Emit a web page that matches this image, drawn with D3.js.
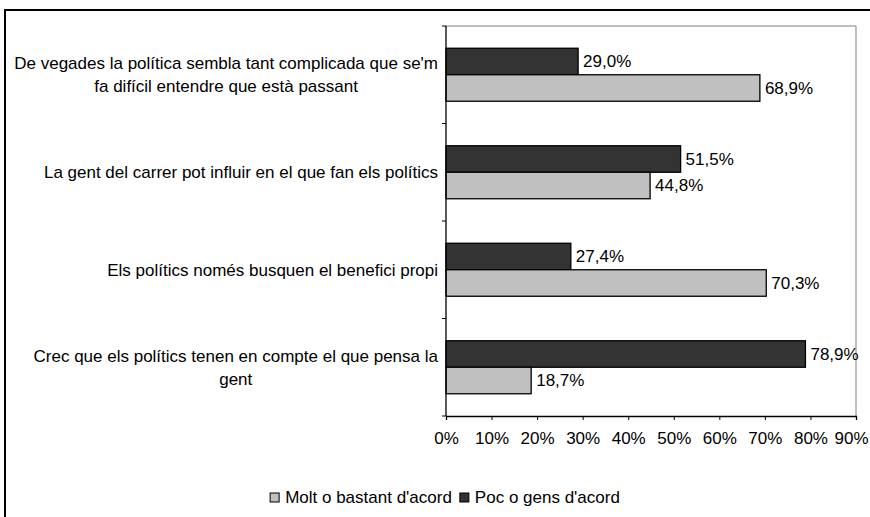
<!DOCTYPE html>
<html><head><meta charset="utf-8">
<script src="https://cdn.jsdelivr.net/npm/d3@7"></script>
<style>
html,body{margin:0;padding:0;background:#fff;}
svg{display:block;font-family:"Liberation Sans",Arial,sans-serif;}
</style></head>
<body>
<svg id="chart" width="870" height="517"></svg>
<script>
const categories = [
  ["De vegades la política sembla tant complicada que se'm", "fa difícil entendre que està passant"],
  ["La gent del carrer pot influir en el que fan els polítics"],
  ["Els polítics només busquen el benefici propi"],
  ["Crec que els polítics tenen en compte el que pensa la", "gent"]
];
const seriesNames = ["Poc o gens d'acord", "Molt o bastant d'acord"];
const pocValues = [29.0, 51.5, 27.4, 78.9];
const moltValues = [68.9, 44.8, 70.3, 18.7];
const xTicks = [0, 10, 20, 30, 40, 50, 60, 70, 80, 90];
const legendOrder = ["Molt o bastant d'acord", "Poc o gens d'acord"];
const colors = {"Poc o gens d'acord": "#333333", "Molt o bastant d'acord": "#c0c0c0"};

const svg = d3.select("#chart");
const fs = 17;
const plot = {left: 446, right: 856, top: 26, bottom: 416};

// outer border
svg.append("rect").attr("x", 5).attr("y", 10).attr("width", 900).attr("height", 600)
  .attr("fill", "none").attr("stroke", "#000").attr("stroke-width", 2);

const x = d3.scaleLinear().domain([0, 90]).range([plot.left, plot.right]);
const catIdx = categories.map((c, i) => i);
const y0 = d3.scaleBand().domain(catIdx).range([plot.top, plot.bottom]).padding(0);
const y1 = d3.scaleBand().domain(seriesNames).range([0, y0.bandwidth()]).paddingInner(0).paddingOuter(0.84);

// plot frame (top & right gray)
svg.append("path")
  .attr("d", `M${plot.left},${plot.top}H${plot.right}V${plot.bottom}`)
  .attr("fill", "none").attr("stroke", "#808080").attr("stroke-width", 1);

const rows = categories.map((c, i) => ({i, vals: [
  {s: seriesNames[0], v: pocValues[i]},
  {s: seriesNames[1], v: moltValues[i]}
]}));

const g = svg.selectAll("g.cat").data(rows).enter().append("g")
  .attr("transform", d => `translate(0,${y0(d.i)})`);

g.selectAll("rect").data(d => d.vals).enter().append("rect")
  .attr("x", x(0))
  .attr("y", d => y1(d.s))
  .attr("width", d => x(d.v) - x(0))
  .attr("height", y1.bandwidth())
  .attr("fill", d => colors[d.s])
  .attr("stroke", "#000").attr("stroke-width", 1.3);

const fmt = v => d3.format(".1f")(v).replace(".", ",") + "%";
g.selectAll("text.val").data(d => d.vals).enter().append("text")
  .attr("class", "val")
  .attr("x", d => x(d.v) + 5)
  .attr("y", d => y1(d.s) + y1.bandwidth() / 2)
  .attr("dy", "0.35em")
  .attr("font-size", fs)
  .attr("fill", "#000")
  .text(d => fmt(d.v));

// left axis
const yTickPos = d3.range(categories.length + 1).map(i => plot.top + i * y0.step());
svg.append("line").attr("x1", plot.left).attr("x2", plot.left).attr("y1", plot.top).attr("y2", plot.bottom)
  .attr("stroke", "#000").attr("stroke-width", 1.3);
svg.selectAll("line.ytick").data(yTickPos).enter().append("line")
  .attr("x1", plot.left - 4).attr("x2", plot.left).attr("y1", d => d).attr("y2", d => d)
  .attr("stroke", "#000");

// category labels
const labelRight = 438;
const lineH = 23;
categories.forEach((lines, i) => {
  const cy = y0(i) + y0.bandwidth() / 2;
  const t = svg.append("text").attr("font-size", fs).attr("fill", "#000");
  const tspans = lines.map((ln, k) => t.append("tspan").text(ln)
    .attr("y", cy + (k - (lines.length - 1) / 2) * lineH).attr("dy", "0.35em"));
  const w = d3.max(tspans, s => s.node().getComputedTextLength());
  const cx = labelRight - w / 2;
  tspans.forEach(s => s.attr("x", cx).attr("text-anchor", "middle"));
});

// bottom axis
const xAxis = d3.axisBottom(x).tickValues(xTicks).tickSizeOuter(0).tickSize(4).tickPadding(12)
  .tickFormat(d => d + "%");
const ax = svg.append("g").attr("transform", `translate(0,${plot.bottom})`).call(xAxis);
ax.select(".domain").attr("stroke", "#000").attr("stroke-width", 1.3);
ax.selectAll(".tick line").attr("stroke", "#000");
ax.selectAll(".tick text").attr("font-size", fs).attr("font-family", "Liberation Sans, Arial, sans-serif").attr("fill", "#000")
  .each(function(d) {
    const w = this.getComputedTextLength();
    const over = x(d) + w / 2 - 868;
    if (over > 0) d3.select(this).attr("dx", -over);
  });

// legend
const leg = svg.append("g");
const ly = 497;
let lx = 0;
legendOrder.forEach(name => {
  leg.append("rect").attr("x", lx).attr("y", ly - 4).attr("width", 9).attr("height", 9)
    .attr("fill", colors[name]).attr("stroke", "#000").attr("stroke-width", 1);
  const t = leg.append("text").attr("x", lx + 15).attr("y", ly).attr("dy", "0.35em")
    .attr("font-size", fs).attr("fill", "#000").text(name);
  lx += 15 + t.node().getComputedTextLength() + 8;
});
const legW = lx - 8;
leg.attr("transform", `translate(${445 - legW / 2},0)`);
</script>
</body></html>
